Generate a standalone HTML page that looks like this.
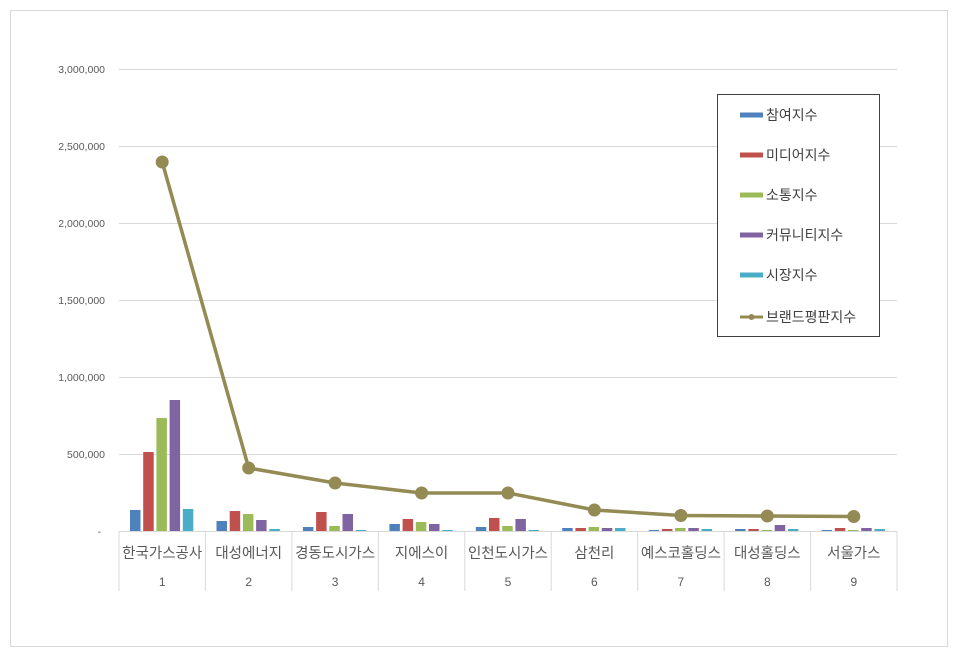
<!DOCTYPE html>
<html><head><meta charset="utf-8"><style>
html,body{margin:0;padding:0;background:#fff;}
svg{display:block;font-family:"Liberation Sans","Noto Sans CJK KR",sans-serif;}
</style></head><body>
<svg width="960" height="656" viewBox="0 0 960 656" xmlns="http://www.w3.org/2000/svg">
<rect x="0" y="0" width="960" height="656" fill="#fff"/>
<rect x="10.5" y="10.5" width="937" height="636" fill="#fff" stroke="#d9d9d9" stroke-width="1"/>
<g stroke="#d9d9d9" stroke-width="1">
<line x1="119" y1="69.5" x2="897" y2="69.5"/>
<line x1="119" y1="146.5" x2="897" y2="146.5"/>
<line x1="119" y1="223.5" x2="897" y2="223.5"/>
<line x1="119" y1="300.5" x2="897" y2="300.5"/>
<line x1="119" y1="377.5" x2="897" y2="377.5"/>
<line x1="119" y1="454.5" x2="897" y2="454.5"/>
<line x1="119" y1="531.5" x2="897" y2="531.5"/>
<line x1="119" y1="531" x2="119" y2="591"/>
<line x1="205.4" y1="531" x2="205.4" y2="591"/>
<line x1="291.9" y1="531" x2="291.9" y2="591"/>
<line x1="378.3" y1="531" x2="378.3" y2="591"/>
<line x1="464.8" y1="531" x2="464.8" y2="591"/>
<line x1="551.2" y1="531" x2="551.2" y2="591"/>
<line x1="637.7" y1="531" x2="637.7" y2="591"/>
<line x1="724.1" y1="531" x2="724.1" y2="591"/>
<line x1="810.6" y1="531" x2="810.6" y2="591"/>
<line x1="897" y1="531" x2="897" y2="591"/>
</g>
<g font-size="10.5" fill="#595959" text-anchor="end">
<text x="105" y="73">3,000,000</text>
<text x="105" y="150">2,500,000</text>
<text x="105" y="227">2,000,000</text>
<text x="105" y="304">1,500,000</text>
<text x="105" y="381">1,000,000</text>
<text x="105" y="458">500,000</text>
<text x="101" y="535">-</text>
</g>
<g>
<g fill="#4F81BD">
<rect x="130.0" y="510" width="10.5" height="21"/>
<rect x="216.5" y="521" width="10.5" height="10"/>
<rect x="302.9" y="527" width="10.5" height="4"/>
<rect x="389.4" y="524" width="10.5" height="7"/>
<rect x="475.8" y="527" width="10.5" height="4"/>
<rect x="562.2" y="528" width="10.5" height="3"/>
<rect x="648.7" y="530" width="10.5" height="1"/>
<rect x="735.1" y="529" width="10.5" height="2"/>
<rect x="821.6" y="530" width="10.5" height="1"/>
</g>
<g fill="#C0504D">
<rect x="143.2" y="452" width="10.5" height="79"/>
<rect x="229.7" y="511" width="10.5" height="20"/>
<rect x="316.1" y="512" width="10.5" height="19"/>
<rect x="402.6" y="519" width="10.5" height="12"/>
<rect x="489.0" y="518" width="10.5" height="13"/>
<rect x="575.4" y="528" width="10.5" height="3"/>
<rect x="661.9" y="529" width="10.5" height="2"/>
<rect x="748.3" y="529" width="10.5" height="2"/>
<rect x="834.8" y="528" width="10.5" height="3"/>
</g>
<g fill="#9BBB59">
<rect x="156.4" y="418" width="10.5" height="113"/>
<rect x="242.9" y="514" width="10.5" height="17"/>
<rect x="329.3" y="526" width="10.5" height="5"/>
<rect x="415.8" y="522" width="10.5" height="9"/>
<rect x="502.2" y="526" width="10.5" height="5"/>
<rect x="588.6" y="527" width="10.5" height="4"/>
<rect x="675.1" y="528" width="10.5" height="3"/>
<rect x="761.5" y="530" width="10.5" height="1"/>
<rect x="848.0" y="530" width="10.5" height="1"/>
</g>
<g fill="#8064A2">
<rect x="169.6" y="400" width="10.5" height="131"/>
<rect x="256.1" y="520" width="10.5" height="11"/>
<rect x="342.5" y="514" width="10.5" height="17"/>
<rect x="429.0" y="524" width="10.5" height="7"/>
<rect x="515.4" y="519" width="10.5" height="12"/>
<rect x="601.8" y="528" width="10.5" height="3"/>
<rect x="688.3" y="528" width="10.5" height="3"/>
<rect x="774.7" y="525" width="10.5" height="6"/>
<rect x="861.2" y="528" width="10.5" height="3"/>
</g>
<g fill="#4BACC6">
<rect x="182.8" y="509" width="10.5" height="22"/>
<rect x="269.3" y="529" width="10.5" height="2"/>
<rect x="355.7" y="530" width="10.5" height="1"/>
<rect x="442.2" y="530" width="10.5" height="1"/>
<rect x="528.6" y="530" width="10.5" height="1"/>
<rect x="615.0" y="528" width="10.5" height="3"/>
<rect x="701.5" y="529" width="10.5" height="2"/>
<rect x="787.9" y="529" width="10.5" height="2"/>
<rect x="874.4" y="529" width="10.5" height="2"/>
</g>
</g>
<polyline points="162.2,162 248.7,468 335.1,483 421.6,493 508.0,493 594.4,510 680.9,515.5 767.3,516 853.8,516.5" fill="none" stroke="#948A54" stroke-width="3.5" stroke-linejoin="round"/>
<g fill="#948A54">
<circle cx="162.2" cy="162" r="6.5"/>
<circle cx="248.7" cy="468" r="6.5"/>
<circle cx="335.1" cy="483" r="6.5"/>
<circle cx="421.6" cy="493" r="6.5"/>
<circle cx="508.0" cy="493" r="6.5"/>
<circle cx="594.4" cy="510" r="6.5"/>
<circle cx="680.9" cy="515.5" r="6.5"/>
<circle cx="767.3" cy="516" r="6.5"/>
<circle cx="853.8" cy="516.5" r="6.5"/>
</g>
<g font-size="14.5" fill="#595959" text-anchor="middle">
<text x="162.2" y="558">한국가스공사</text>
<text x="248.7" y="558">대성에너지</text>
<text x="335.1" y="558">경동도시가스</text>
<text x="421.6" y="558">지에스이</text>
<text x="508.0" y="558">인천도시가스</text>
<text x="594.4" y="558">삼천리</text>
<text x="680.9" y="558">예스코홀딩스</text>
<text x="767.3" y="558">대성홀딩스</text>
<text x="853.8" y="558">서울가스</text>
</g>
<g font-size="12" fill="#595959" text-anchor="middle">
<text x="162.2" y="586">1</text>
<text x="248.7" y="586">2</text>
<text x="335.1" y="586">3</text>
<text x="421.6" y="586">4</text>
<text x="508.0" y="586">5</text>
<text x="594.4" y="586">6</text>
<text x="680.9" y="586">7</text>
<text x="767.3" y="586">8</text>
<text x="853.8" y="586">9</text>
</g>
<rect x="717.5" y="94.5" width="162" height="242" fill="#fff" stroke="#404040" stroke-width="1"/>
<rect x="740" y="112.5" width="23" height="5" fill="#4F81BD"/>
<rect x="740" y="152.5" width="23" height="5" fill="#C0504D"/>
<rect x="740" y="192.5" width="23" height="5" fill="#9BBB59"/>
<rect x="740" y="232.5" width="23" height="5" fill="#8064A2"/>
<rect x="740" y="272.5" width="23" height="5" fill="#4BACC6"/>
<line x1="740" y1="317" x2="763" y2="317" stroke="#948A54" stroke-width="3"/>
<circle cx="751.5" cy="317" r="3" fill="#948A54"/>
<g font-size="14" fill="#404040">
<text x="766" y="120">참여지수</text>
<text x="766" y="160">미디어지수</text>
<text x="766" y="200">소통지수</text>
<text x="766" y="240">커뮤니티지수</text>
<text x="766" y="280">시장지수</text>
<text x="766" y="322">브랜드평판지수</text>
</g>
</svg>
</body></html>
